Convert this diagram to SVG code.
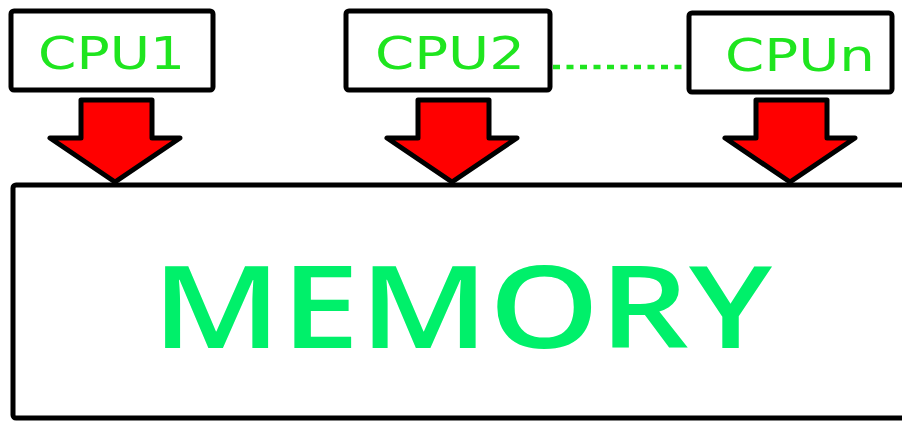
<svg xmlns="http://www.w3.org/2000/svg" width="902" height="421" viewBox="0 0 902 421">
<style>
.box{fill:#fff;stroke:#000;stroke-width:5}
.cpu{font-family:"DejaVu Sans","Liberation Sans",sans-serif;font-size:44px;fill:#1fe51f}
.mem{font-family:"Open Sans","Liberation Sans",sans-serif;font-size:115px;font-weight:600;fill:#00f06a}
.arrow{fill:#ff0000;stroke:#000;stroke-width:5;stroke-linejoin:round}
.dots{stroke:#1fe51f;stroke-width:4.5;stroke-dasharray:7 6.5;fill:none}
</style>
<rect width="902" height="421" fill="#fff"/>
<g id="memory">
<rect class="box" x="13" y="185" width="900" height="233" rx="3"/>
<text class="mem" x="152" y="348" textLength="620" lengthAdjust="spacingAndGlyphs">MEMORY</text>
</g>
<g id="connectors">
<path class="dots" d="M553 67 H688"/>
<path class="arrow" d="M81 100 H152 V138 H180 L115 182 L50 138 H81 Z"/>
<path class="arrow" d="M418 100 H489 V138 H517 L452 182 L387 138 H418 Z"/>
<path class="arrow" d="M756 100 H827 V138 H855 L790 182 L725 138 H756 Z"/>
</g>
<g id="cpu1">
<rect class="box" x="11" y="11" width="202" height="79" rx="3"/>
<text class="cpu" x="38" y="69" textLength="147" lengthAdjust="spacingAndGlyphs">CPU1</text>
</g>
<g id="cpu2">
<rect class="box" x="346" y="11" width="204" height="79" rx="3"/>
<text class="cpu" x="375" y="69" textLength="150" lengthAdjust="spacingAndGlyphs">CPU2</text>
</g>
<g id="cpun">
<rect class="box" x="689" y="13" width="203" height="79" rx="3"/>
<text class="cpu" x="725" y="71" textLength="150" lengthAdjust="spacingAndGlyphs">CPUn</text>
</g>
</svg>
